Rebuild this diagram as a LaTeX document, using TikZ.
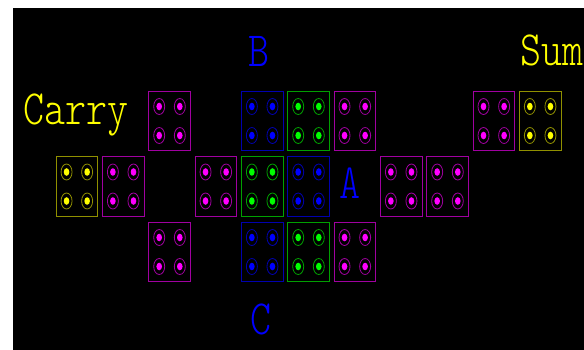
\documentclass[tikz,border=0pt]{standalone}
\usepackage{fontspec}
\setmonofont{Latin Modern Mono Light}
\usetikzlibrary{positioning, calc}

\definecolor{magdot}{HTML}{FF00FF}
\definecolor{magrim}{HTML}{A000A0}
\definecolor{bludot}{HTML}{0000FF}
\definecolor{blurim}{HTML}{0000B0}
\definecolor{grndot}{HTML}{00FF00}
\definecolor{grnrim}{HTML}{00A000}
\definecolor{ylwdot}{HTML}{FFFF00}
\definecolor{ylwrim}{HTML}{909000}

% one tile: name, column, row, colour key
\newcommand{\tile}[4]{%
  \node[tilebox, draw=#4rim] (#1) at ({76.85+46.33*#2}, {121+65.5*#3}) {};
  \foreach \dx in {-10.3,10.3}
    \foreach \dy in {-14.5,14.5} {
      \draw[#4rim, line width=0.8pt] ($(#1)+(\dx,\dy)$) ellipse [x radius=5.5, y radius=8];
      \fill[#4dot] ($(#1)+(\dx,\dy)$) ellipse [x radius=2.8, y radius=3.8];
    }%
}

\begin{document}
\begin{tikzpicture}[x=1pt, y=-1pt,
    tilebox/.style={rectangle, minimum width=41.7pt, minimum height=59.4pt,
                    inner sep=0pt, line width=0.9pt},
    lbl/.style={inner sep=0pt, font=\ttfamily\fontsize{40}{40}\selectfont},
  ]
  \fill[white] (0,0) rectangle (584,350);
  \clip (0,0) rectangle (584,350);
  \fill[black] (13,8) rectangle (584,350);

  % top row
  \foreach \c/\k in {2/mag, 4/blu, 5/grn, 6/mag, 9/mag, 10/ylw}
    \tile{top\c}{\c}{0}{\k};
  % middle row
  \foreach \c/\k in {0/ylw, 1/mag, 3/mag, 4/grn, 5/blu, 7/mag, 8/mag}
    \tile{mid\c}{\c}{1}{\k};
  % bottom row
  \foreach \c/\k in {2/mag, 4/blu, 5/grn, 6/mag}
    \tile{bot\c}{\c}{2}{\k};

  \node[lbl, text=bludot, anchor=base] (labB) at (259,66.7) {\scalebox{1}[1.23]{B}};
  \node[lbl, text=bludot, anchor=base] (labA) at (350,198.3) {\scalebox{1}[1.23]{A}};
  \node[lbl, text=bludot, anchor=base] (labC) at (261,334) {\scalebox{1}[1.23]{C}};
  \node[lbl, text=ylwdot, anchor=base] (carry) at (75.8,124.5) {\scalebox{1}[1.23]{Carry}};
  \node[lbl, text=ylwdot, anchor=base west] (sum) at (520,65.7) {\scalebox{1}[1.23]{Sum}};
\end{tikzpicture}
\end{document}
